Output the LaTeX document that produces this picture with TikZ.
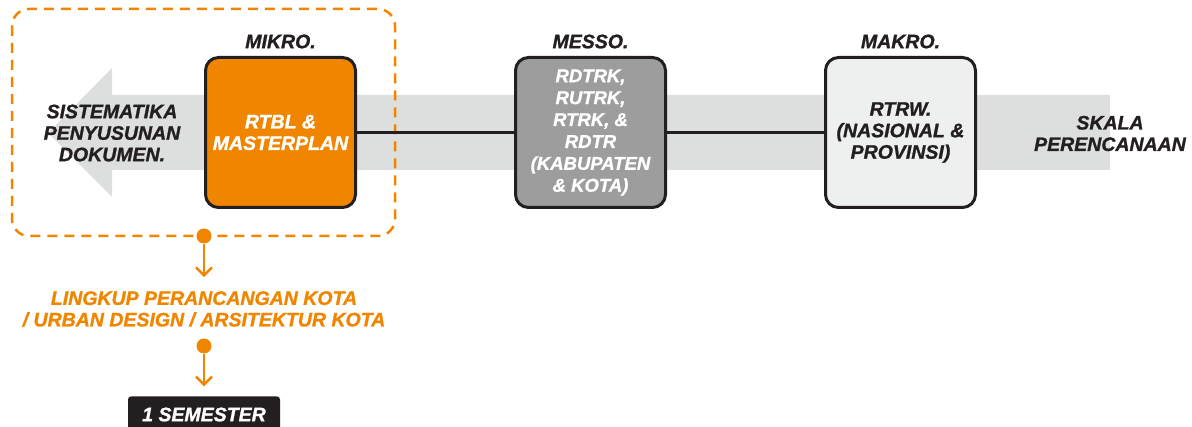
\documentclass[tikz,border=0pt]{standalone}
\usepackage{fontspec}
\setmainfont{Liberation Sans}[BoldItalicFeatures={FakeBold=1.2}]
\usetikzlibrary{arrows.meta}
\definecolor{orng}{RGB}{240,134,0}
\definecolor{ink}{RGB}{35,31,32}
\definecolor{band}{RGB}{221,222,222}
\definecolor{messofill}{RGB}{157,157,157}
\definecolor{makrofill}{RGB}{238,240,239}
\tikzset{
  lbl/.style={font=\fontsize{19.5}{21.5}\selectfont\bfseries\itshape, align=center, text=ink, inner sep=0pt},
  scalebox/.style={lbl, draw=ink, line width=3pt, rounded corners=13pt, minimum width=150pt, minimum height=150pt},
  dot/.style={circle, fill=orng, inner sep=0pt, minimum size=15pt},
  down/.style={draw=orng, line width=2.5pt, -{Straight Barb[length=8pt,width=16pt]}},
  semester/.style={lbl, fill=ink, text=white, rounded corners=3pt, minimum width=152pt, minimum height=36pt}
}
\begin{document}
\begin{tikzpicture}[x=1pt,y=-1pt,node distance=310pt]
   \useasboundingbox (0,0) rectangle (1192,427);
   \fill[band] (48,133) -- (112,68) -- (112,95) -- (1110,95) -- (1110,170)
     -- (112,170) -- (112,197) -- cycle;
   \draw[orng, line width=2.5pt, dash pattern=on 10pt off 7pt, rounded corners=17pt]
     (12,9) rectangle (395,236);

   \node (mikro) [scalebox, fill=orng, text=white] at (280.5,132.5) {RTBL \&\\MASTERPLAN};
   \node (messo) [scalebox, fill=messofill, text=white,
     font=\fontsize{18.5}{21.9}\selectfont\bfseries\itshape, right of=mikro]
     {RDTRK,\\RUTRK,\\RTRK, \&\\RDTR\\(KABUPATEN\\\& KOTA)};
   \node (makro) [scalebox, fill=makrofill, right of=messo] {RTRW.\\(NASIONAL \&\\PROVINSI)};

   \node (mikrolbl) [lbl, above of=mikro, node distance=91pt] {MIKRO.};
   \node (messolbl) [lbl, above of=messo, node distance=91pt] {MESSO.};
   \node (makrolbl) [lbl, above of=makro, node distance=91pt] {MAKRO.};

   \node (sistematika) [lbl] at (112,133) {SISTEMATIKA\\PENYUSUNAN\\DOKUMEN.};
   \node (skala) [lbl] at (1110,133.5) {SKALA\\PERENCANAAN};

   \node (dot1) [dot] at (204,236) {};
   \node (lingkup) [lbl, text=orng, below of=dot1, node distance=73pt]
     {LINGKUP PERANCANGAN KOTA\\/ URBAN DESIGN / ARSITEKTUR KOTA};
   \node (dot2) [dot, below of=lingkup, node distance=37pt] {};
   \node (sem) [semester, below of=dot2, node distance=68.5pt] {1 SEMESTER};

   \path[draw=ink, line width=2.5pt]
     (mikro) edge (messo)
     (messo) edge (makro);
   \path[down]
     (dot1) edge[shorten >=14pt] (lingkup)
     (dot2) edge[shorten >=10pt] (sem);
\end{tikzpicture}
\end{document}
